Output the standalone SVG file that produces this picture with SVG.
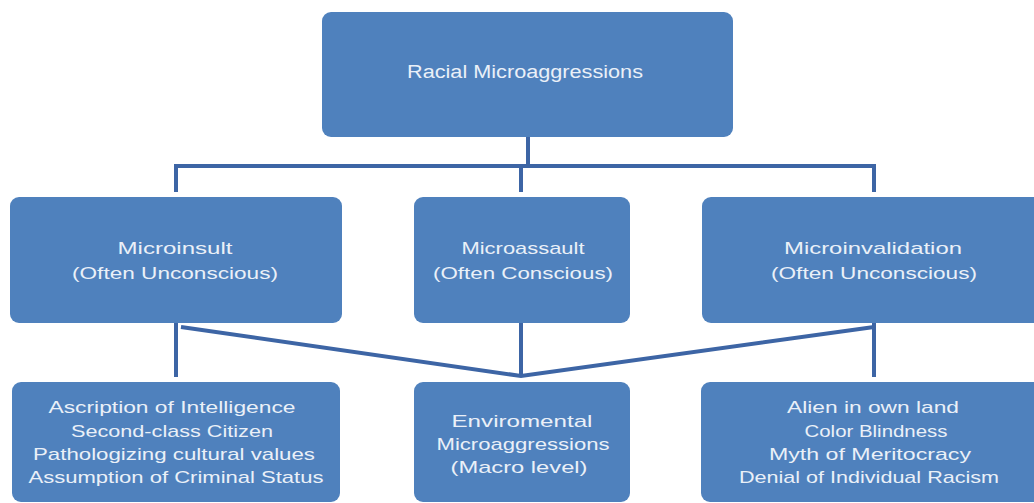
<svg xmlns="http://www.w3.org/2000/svg" width="1034" height="503" viewBox="0 0 1034 503">
<style>
.box{fill:#4F81BD;}
.t{font-family:"Liberation Sans",Arial,sans-serif;font-size:17px;fill:#EAF0F8;text-anchor:middle;}
.big{font-size:18px;}
.c{stroke:#3D65A5;stroke-width:4;fill:none;stroke-linecap:butt;}
</style>
<rect width="1034" height="503" fill="#FFFFFF"/>
<g id="connectors">
<path class="c" d="M528,137 V166 M176,166 H874 M176,164 V192 M521,166 V192 M874,164 V192"/>
<path class="c" d="M176,323 V377 M521,323 V377 M874,323 V377"/>
<path class="c" d="M181,327 L521,376 L874,327"/>
</g>
<g id="root">
<rect class="box" x="322" y="12" width="411" height="125" rx="9"/>
<text class="t big" x="525" y="78" textLength="236" lengthAdjust="spacingAndGlyphs">Racial Microaggressions</text>
</g>
<g id="microinsult">
<rect class="box" x="10" y="197" width="332" height="126" rx="9"/>
<text class="t" x="175" y="254" textLength="115" lengthAdjust="spacingAndGlyphs">Microinsult</text>
<text class="t" x="175" y="279" textLength="206" lengthAdjust="spacingAndGlyphs">(Often Unconscious)</text>
</g>
<g id="microassault">
<rect class="box" x="414" y="197" width="216" height="126" rx="9"/>
<text class="t" x="523" y="254" textLength="123" lengthAdjust="spacingAndGlyphs">Microassault</text>
<text class="t" x="523" y="279" textLength="180" lengthAdjust="spacingAndGlyphs">(Often Conscious)</text>
</g>
<g id="microinvalidation">
<rect class="box" x="702" y="197" width="345" height="126" rx="9"/>
<text class="t" x="873" y="254" textLength="178" lengthAdjust="spacingAndGlyphs">Microinvalidation</text>
<text class="t" x="874" y="279" textLength="206" lengthAdjust="spacingAndGlyphs">(Often Unconscious)</text>
</g>
<g id="insult-examples">
<rect class="box" x="12" y="382" width="328" height="120" rx="9"/>
<text class="t" x="172" y="413" textLength="247" lengthAdjust="spacingAndGlyphs">Ascription of Intelligence</text>
<text class="t" x="172" y="437" textLength="202" lengthAdjust="spacingAndGlyphs">Second-class Citizen</text>
<text class="t" x="174" y="460" textLength="282" lengthAdjust="spacingAndGlyphs">Pathologizing cultural values</text>
<text class="t" x="176" y="483" textLength="295" lengthAdjust="spacingAndGlyphs">Assumption of Criminal Status</text>
</g>
<g id="environmental">
<rect class="box" x="414" y="382" width="216" height="120" rx="9"/>
<text class="t" x="522" y="427" textLength="141" lengthAdjust="spacingAndGlyphs">Enviromental</text>
<text class="t" x="523" y="450" textLength="173" lengthAdjust="spacingAndGlyphs">Microaggressions</text>
<text class="t" x="519" y="473" textLength="137" lengthAdjust="spacingAndGlyphs">(Macro level)</text>
</g>
<g id="invalidation-examples">
<rect class="box" x="701" y="382" width="346" height="120" rx="9"/>
<text class="t" x="873" y="413" textLength="172" lengthAdjust="spacingAndGlyphs">Alien in own land</text>
<text class="t" x="876" y="437" textLength="143" lengthAdjust="spacingAndGlyphs">Color Blindness</text>
<text class="t" x="870" y="460" textLength="202" lengthAdjust="spacingAndGlyphs">Myth of Meritocracy</text>
<text class="t" x="869" y="483" textLength="260" lengthAdjust="spacingAndGlyphs">Denial of Individual Racism</text>
</g>
</svg>
